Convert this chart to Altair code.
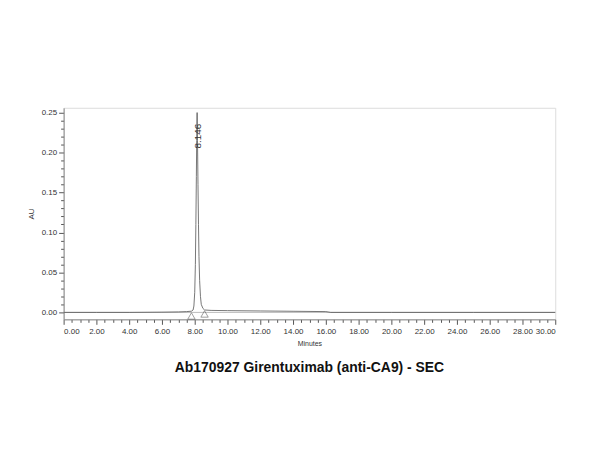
import altair as alt
import pandas as pd

# chromatogram trace (minutes, AU)
times = [0, 2, 4, 6, 7.0, 7.5, 7.8, 7.9, 7.95, 8.0, 8.04, 8.07, 8.1, 8.12, 8.146,
         8.17, 8.2, 8.23, 8.26, 8.3, 8.35, 8.4, 8.5, 8.6, 9.0, 10, 12, 14, 16, 16.3, 20, 25, 30]
values = [0.0, 0.0, 0.0, 0.0003, 0.0006, 0.001, 0.0015, 0.003, 0.008, 0.025, 0.06, 0.11, 0.17, 0.215, 0.25,
          0.215, 0.16, 0.11, 0.07, 0.04, 0.02, 0.01, 0.005, 0.003, 0.0025, 0.0022, 0.0018, 0.0014, 0.001, 0.0, 0.0, 0.0, 0.0]

peak_time = [8.146]
peak_label = ["8.146"]
peak_label_y = [0.205]

marker_times = [7.8, 8.6]
marker_values = [-0.0045, -0.002]

title_text = "Ab170927 Girentuximab (anti-CA9) - SEC"

x_ticks = [i * 0.5 for i in range(61)]
y_ticks = [round(i * 0.01, 2) for i in range(26)]

trace = pd.DataFrame({"t": times, "v": values, "kind": "trace"})
zero = pd.DataFrame({"t": [0, 30], "v": [0, 0], "kind": "zero"})
labels = pd.DataFrame({"t": peak_time, "v": peak_label_y, "label": peak_label, "kind": "label"})
markers = pd.DataFrame({"t": marker_times, "v": marker_values, "kind": "marker"})
data = pd.concat([zero, trace, labels, markers], ignore_index=True)

xscale = alt.Scale(domain=[0, 30], nice=False, zero=False)
yscale = alt.Scale(domain=[-0.0087, 0.256], nice=False, zero=False)

xaxis = alt.Axis(
    title="Minutes", values=x_ticks,
    labelExpr="datum.value % 2 === 0 ? format(datum.value, '.2f') : ''",
    tickSize={"condition": {"test": "datum.value % 2 === 0", "value": 5}, "value": 3},
    grid=False, domainColor="#888", tickColor="#555", labelColor="#333",
    labelFont="Liberation Sans", labelFontSize=8, titleFont="Liberation Sans",
    titleFontSize=7, titleFontWeight="normal", titleColor="#333", titlePadding=4,
    labelPadding=3, labelOverlap=False,
)
yaxis = alt.Axis(
    title="AU", values=y_ticks,
    labelExpr="round(datum.value*100) % 5 === 0 ? format(datum.value, '.2f') : ''",
    tickSize={"condition": {"test": "round(datum.value*100) % 5 === 0", "value": 5}, "value": 3},
    grid=False, domainColor="#888", tickColor="#555", labelColor="#333",
    labelFont="Liberation Sans", labelFontSize=8, titleFont="Liberation Sans",
    titleFontSize=8, titleFontWeight="normal", titleColor="#333", titlePadding=6,
    labelPadding=2, labelOverlap=False,
)

X = alt.X("t:Q", scale=xscale, axis=xaxis)
Y = alt.Y("v:Q", scale=yscale, axis=yaxis)

base = alt.Chart(data).encode(x=X, y=Y)

base_zero = base.transform_filter("datum.kind === 'zero'").mark_line(color="#bbbbbb", strokeWidth=1)
line = base.transform_filter("datum.kind === 'trace'").mark_line(color="#555555", strokeWidth=0.8)
tri = base.transform_filter("datum.kind === 'marker'").mark_point(
    shape="triangle-up", filled=False, color="#555555", size=55, strokeWidth=0.8)
txt = base.transform_filter("datum.kind === 'label'").mark_text(
    angle=270, align="left", baseline="middle", dy=1,
    font="Liberation Sans", fontSize=10, color="#333").encode(text="label:N")

chart = alt.layer(base_zero, line, tri, txt).properties(
    width=495, height=213,
    autosize=alt.AutoSizeParams(type="none"),
    padding={"left": 56, "top": 99, "right": 37, "bottom": 120},
    title=alt.TitleParams(title_text, orient="bottom", anchor="middle",
                          font="Liberation Sans", fontSize=14, fontWeight="bold",
                          color="#111", offset=15),
).configure_view(stroke="#999", strokeWidth=1).configure(background="white")

chart.save("out.html", embed_options={"renderer": "svg", "actions": False})
